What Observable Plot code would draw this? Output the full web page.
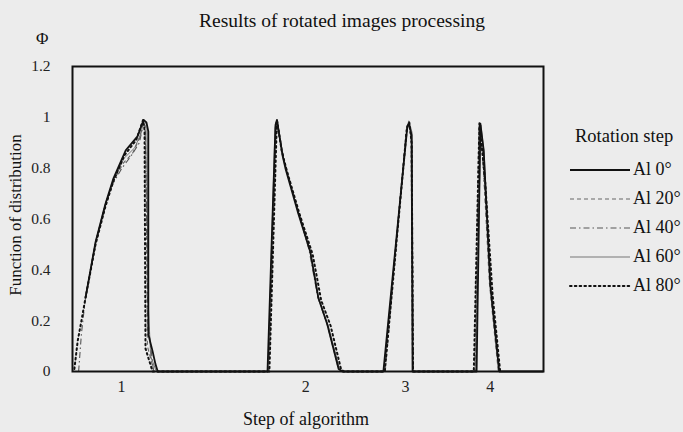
<!DOCTYPE html>
<html>
<head>
<meta charset="utf-8">
<script src="https://cdn.jsdelivr.net/npm/d3@7"></script>
<script src="https://cdn.jsdelivr.net/npm/@observablehq/plot@0.6"></script>
<style>
  html, body { margin: 0; padding: 0; background: #ececec; }
  #wrap { position: relative; width: 683px; height: 432px; overflow: hidden; font-family: 'Liberation Serif', serif; color: #111; }
  #chart { position: absolute; left: 0; top: 0; }
  #chart svg text { font-family: 'Liberation Serif', serif; }
  .lbl { position: absolute; white-space: nowrap; line-height: 1; }
</style>
</head>
<body>
<div id="wrap">
  <div id="chart"></div>
</div>
<script>
// ---- Data (x: position along the algorithm steps, 0..100; y: distribution function value) ----
const seriesNames = ["Al 0°", "Al 20°", "Al 40°", "Al 60°", "Al 80°"];

const x0 = [2.76, 4.9, 7.0, 8.7, 11.3, 13.8, 15.1, 15.7, 16.1, 16.1, 17.0, 17.6, 18.1, 41.4, 43.1, 43.4, 44.6, 45.2, 47.8, 50.5, 52.2, 54.1, 56.5, 57.3, 66.0, 71.1, 71.4, 72.0, 72.2, 85.8, 86.6, 87.3, 88.7, 90.6, 100];
const y0 = [0.29, 0.51, 0.66, 0.76, 0.87, 0.925, 0.99, 0.98, 0.945, 0.146, 0.08, 0.03, 0, 0, 0.97, 0.99, 0.85, 0.80, 0.63, 0.47, 0.29, 0.185, 0.01, 0, 0, 0.965, 0.975, 0.93, 0, 0, 0.975, 0.87, 0.34, 0, 0];

const x1 = [2.76, 4.9, 7.0, 8.7, 10.8, 12.8, 14.3, 14.9, 15.5, 15.7, 15.9, 17.3, 41.6, 43.2, 44.2, 45.0, 47.6, 50.3, 52.0, 54.0, 56.4, 57.2, 66.2, 70.9, 71.4, 71.9, 72.2, 85.5, 86.5, 87.1, 88.5, 90.4];
const y1 = [0.29, 0.51, 0.66, 0.75, 0.82, 0.86, 0.92, 0.98, 0.96, 0.6, 0.1, 0, 0, 0.98, 0.9, 0.82, 0.65, 0.49, 0.3, 0.19, 0.015, 0, 0, 0.95, 0.985, 0.92, 0, 0, 0.97, 0.85, 0.35, 0];

const x2 = [1.3, 1.9, 2.76, 4.9, 7.0, 8.6, 10.5, 12.5, 14.2, 15.0, 15.4, 15.6, 16.0, 17.2, 41.7, 43.3, 44.0, 44.8, 47.5, 50.2, 52.1, 54.2, 56.6, 57.4, 66.4, 70.8, 71.2, 71.7, 72.1, 72.4, 85.4, 86.3, 87.0, 88.9, 90.7];
const y2 = [0, 0.15, 0.29, 0.5, 0.655, 0.74, 0.8, 0.85, 0.9, 0.97, 0.97, 0.8, 0.2, 0, 0, 0.985, 0.93, 0.84, 0.66, 0.48, 0.29, 0.18, 0.01, 0, 0, 0.93, 0.97, 0.95, 0.88, 0, 0, 0.97, 0.86, 0.32, 0];

const x3 = [2.76, 4.9, 7.0, 8.7, 11.0, 13.2, 14.6, 15.1, 15.8, 16.0, 16.6, 17.8, 41.5, 43.0, 43.5, 44.5, 45.3, 48.0, 50.6, 52.3, 54.3, 56.7, 57.5, 66.1, 71.0, 71.6, 72.1, 72.3, 85.6, 86.7, 87.4, 88.8, 90.5];
const y3 = [0.29, 0.51, 0.66, 0.755, 0.84, 0.88, 0.94, 0.99, 0.97, 0.3, 0.06, 0, 0, 0.96, 0.99, 0.86, 0.8, 0.62, 0.46, 0.285, 0.18, 0.01, 0, 0, 0.96, 0.975, 0.94, 0, 0, 0.97, 0.86, 0.33, 0];

const x4 = [0.4, 1.1, 1.9, 2.76, 4.9, 7.0, 8.7, 11.0, 13.5, 15.0, 15.3, 15.4, 15.5, 17.0, 41.8, 43.4, 44.4, 45.5, 48.2, 51.0, 52.8, 54.8, 57.0, 57.6, 66.3, 71.0, 71.5, 72.0, 72.3, 85.2, 86.4, 87.6, 89.2, 90.8];
const y4 = [0.01, 0.12, 0.2, 0.29, 0.5, 0.65, 0.75, 0.85, 0.91, 0.99, 0.95, 0.5, 0.09, 0.0, 0, 0.99, 0.87, 0.79, 0.62, 0.46, 0.28, 0.18, 0.01, 0, 0, 0.96, 0.98, 0.9, 0, 0, 0.98, 0.75, 0.3, 0];

const yTicks = [0, 0.2, 0.4, 0.6, 0.8, 1, 1.2];
const yTickLabels = ["0", "0.2", "0.4", "0.6", "0.8", "1", "1.2"];
const xTickPos = [10.4, 49.5, 70.7, 88.7];
const xTickLabels = ["1", "2", "3", "4"];

const titleText = "Results of rotated images processing";
const yLabelText = "Function of distribution";
const xLabelText = "Step of algorithm";
const legendTitle = "Rotation step";

// ---- Styles ----
const styles = [
  {stroke: "#111", strokeWidth: 1.8, dash: null},
  {stroke: "#666", strokeWidth: 1.1, dash: "4,3"},
  {stroke: "#555", strokeWidth: 1.1, dash: "6,3,1.5,3"},
  {stroke: "#777", strokeWidth: 1.0, dash: null},
  {stroke: "#111", strokeWidth: 2.0, dash: "1.6,3.2"}
];
const xs = [x0, x1, x2, x3, x4];
const ys = [y0, y1, y2, y3, y4];
const tables = xs.map((xa, k) => xa.map((x, i) => ({x, y: ys[k][i], series: seriesNames[k]})));

const drawOrder = [3, 1, 2, 4, 0];
const lineMarks = drawOrder.map(k => Plot.line(tables[k], {
  x: "x", y: "y",
  stroke: styles[k].stroke,
  strokeWidth: styles[k].strokeWidth,
  strokeDasharray: styles[k].dash,
  strokeLinecap: k === 4 ? "round" : "butt"
}));

const serif = "'Liberation Serif', serif";
const chart = Plot.plot({
  width: 683,
  height: 432,
  marginTop: 66,
  marginRight: 140,
  marginBottom: 61,
  marginLeft: 72,
  style: {fontFamily: serif, fontSize: "15px", background: "transparent", color: "#222"},
  x: {domain: [0, 100], axis: null},
  y: {domain: [0, 1.2], axis: null},
  marks: [
    ...lineMarks,
    Plot.frame({stroke: "#111", strokeWidth: 2}),
    Plot.axisY(yTicks, {tickSize: 0, tickPadding: 22, fontSize: 15.5, fontFamily: serif, label: null,
      tickFormat: d => yTickLabels[yTicks.indexOf(d)]}),
    Plot.axisX(xTickPos, {tickSize: 0, tickPadding: 9, fontSize: 16, fontFamily: serif, label: null,
      tickFormat: d => xTickLabels[xTickPos.indexOf(d)]})
  ]
});
document.getElementById("chart").appendChild(chart);

const wrap = document.getElementById("wrap");
function addLabel(text, left, top, size, extra) {
  const d = document.createElement("div");
  d.className = "lbl";
  d.textContent = text;
  d.style.left = left + "px";
  d.style.top = top + "px";
  d.style.fontSize = size + "px";
  if (extra) Object.assign(d.style, extra);
  wrap.appendChild(d);
  return d;
}
addLabel(titleText, 342, 11, 19.5, {transform: "translateX(-50%)"});
addLabel("Φ", 36, 30, 17);
addLabel(xLabelText, 306, 410, 18, {transform: "translateX(-50%)"});
addLabel(yLabelText, 15, 215, 17, {transform: "translate(-50%, -50%) rotate(-90deg)"});

// ---- Legend ----
const leg = d3.select(wrap).append("svg")
  .attr("width", 683).attr("height", 432)
  .style("position", "absolute").style("left", 0).style("top", 0);
leg.append("text").attr("x", 575).attr("y", 142)
  .attr("font-family", serif).attr("font-size", 18.5).attr("fill", "#111")
  .text(legendTitle);
const rowY = [170, 199, 228, 257, 286];
seriesNames.forEach((name, k) => {
  const g = leg.append("g");
  g.append("line").attr("x1", 570).attr("x2", 630).attr("y1", rowY[k]).attr("y2", rowY[k])
    .attr("stroke", styles[k].stroke).attr("stroke-width", styles[k].strokeWidth)
    .attr("stroke-dasharray", styles[k].dash).attr("stroke-linecap", k === 4 ? "round" : "butt");
  g.append("text").attr("x", 633).attr("y", rowY[k] + 5)
    .attr("font-family", serif).attr("font-size", 18).attr("fill", "#111")
    .text(name);
});
</script>
</body>
</html>
